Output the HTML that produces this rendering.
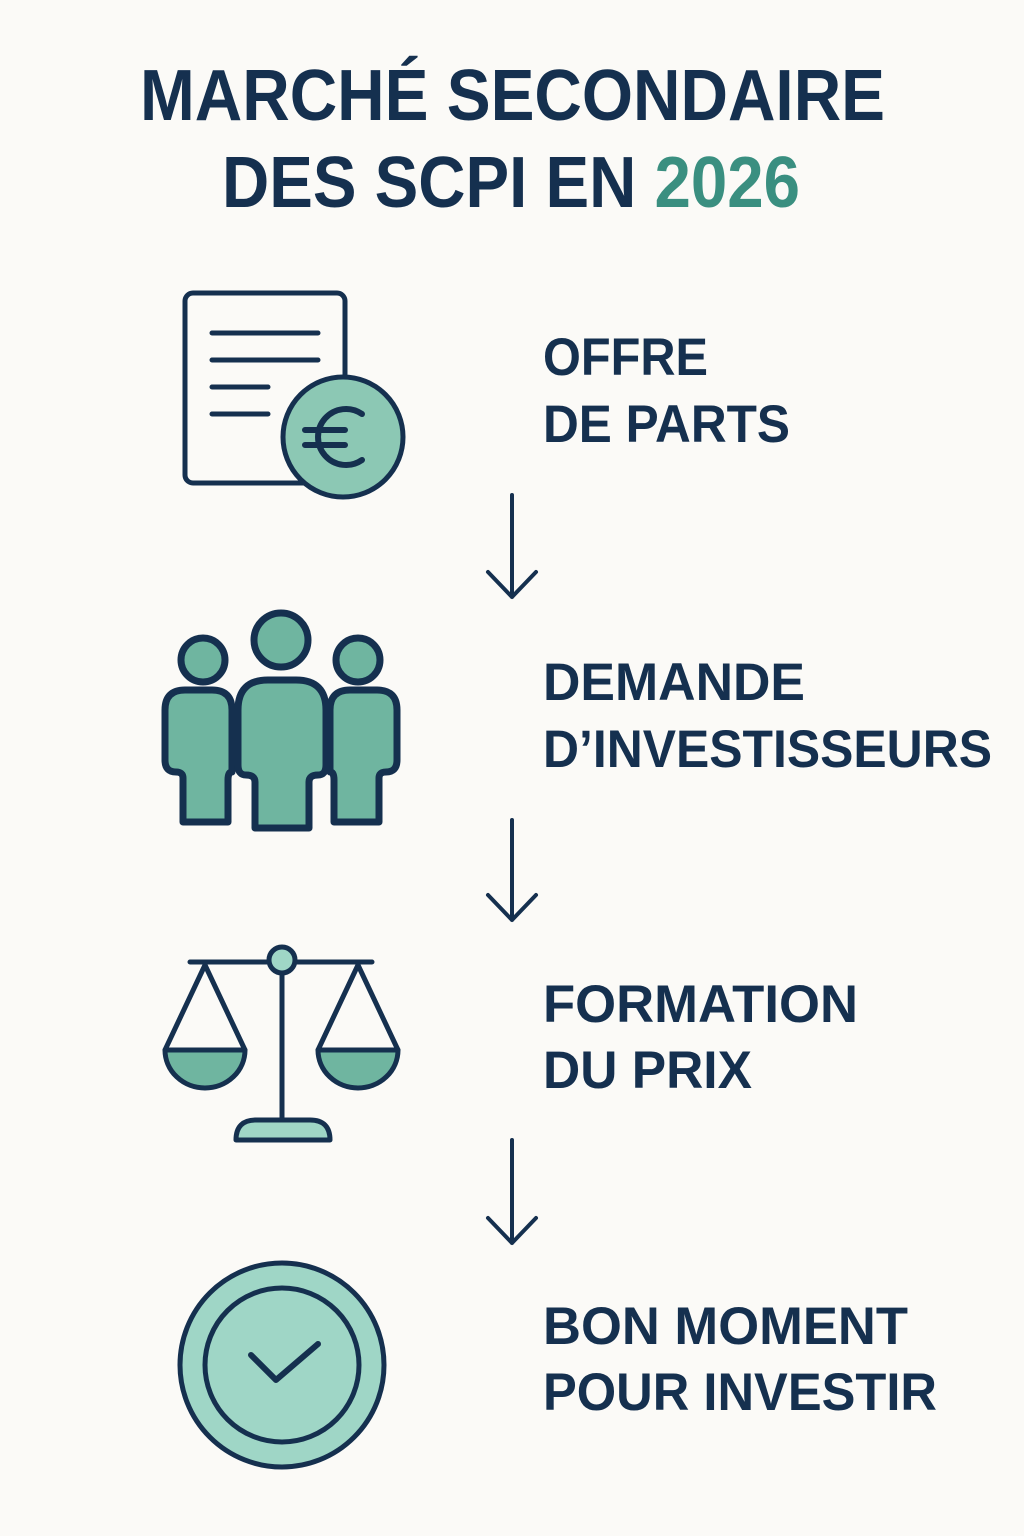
<!DOCTYPE html>
<html><head><meta charset="utf-8"><style>
html,body{margin:0;padding:0;background:#fbfaf7;}
svg{display:block;}
text{font-family:"Liberation Sans","DejaVu Sans",sans-serif;font-weight:bold;fill:#15304f;}
</style></head><body>
<svg width="1024" height="1536" viewBox="0 0 1024 1536" xmlns="http://www.w3.org/2000/svg">
<rect width="1024" height="1536" fill="#fbfaf7"/>
<text x="140" y="120" font-size="72" textLength="745" lengthAdjust="spacingAndGlyphs">MARCHÉ SECONDAIRE</text>
<text x="222" y="207" font-size="72" textLength="578" lengthAdjust="spacingAndGlyphs">DES SCPI EN <tspan fill="#3a8f80">2026</tspan></text>

<g font-size="53">
<text x="543" y="375" textLength="165" lengthAdjust="spacingAndGlyphs">OFFRE</text>
<text x="543" y="442" textLength="247" lengthAdjust="spacingAndGlyphs">DE PARTS</text>
<text x="543" y="700" textLength="262" lengthAdjust="spacingAndGlyphs">DEMANDE</text>
<text x="543" y="767" textLength="449" lengthAdjust="spacingAndGlyphs">D’INVESTISSEURS</text>
<text x="543" y="1022" textLength="315" lengthAdjust="spacingAndGlyphs">FORMATION</text>
<text x="543" y="1088" textLength="209" lengthAdjust="spacingAndGlyphs">DU PRIX</text>
<text x="543" y="1344" textLength="365" lengthAdjust="spacingAndGlyphs">BON MOMENT</text>
<text x="543" y="1410" textLength="394" lengthAdjust="spacingAndGlyphs">POUR INVESTIR</text>
</g>

<g stroke="#15304f" stroke-width="4" fill="none" stroke-linecap="round" stroke-linejoin="round">
<path d="M512 495 V597 M488 572 L512 597 L536 572"/>
<path d="M512 820 V920 M488 895 L512 920 L536 895"/>
<path d="M512 1140 V1243 M488 1218 L512 1243 L536 1218"/>
</g>

<!-- document -->
<g stroke="#15304f" stroke-width="5" stroke-linecap="round" stroke-linejoin="round">
<rect x="185" y="293" width="160" height="190" rx="8" fill="#fbfaf7"/>
<path d="M212 333 H318 M212 360 H318 M212 387 H268 M212 414 H268" fill="none"/>
<circle cx="343" cy="437" r="60" fill="#8cc8b4"/>
<path d="M362 414 A28 28 0 1 0 362 460 M305 430 H345 M305 445 H345" fill="none" stroke-width="6"/>
</g>

<!-- people -->
<g stroke="#15304f" stroke-width="7" stroke-linejoin="round" fill="#6fb5a0">
<path d="M183 822 V778 Q183 772 176 772 Q165 772 165 760 V710 Q165 690 185 690 H212 Q232 690 232 710 V772 Q228 772 228 780 V822 Z"/>
<path d="M379 822 V778 Q379 772 386 772 Q397 772 397 760 V710 Q397 690 377 690 H350 Q330 690 330 710 V772 Q334 772 334 780 V822 Z"/>
<path d="M255 828 V782 Q255 775 246 775 Q238 775 238 765 V710 Q238 680 268 680 H296 Q326 680 326 710 V765 Q326 775 318 775 Q309 775 309 782 V828 Z"/>
<circle cx="203" cy="660" r="22"/>
<circle cx="358" cy="660" r="22"/>
<circle cx="281" cy="640" r="27"/>
</g>

<!-- scale -->
<g stroke="#15304f" stroke-width="5" stroke-linecap="round" stroke-linejoin="round">
<path d="M190 962 H372 M282 970 V1118 M205 965 L165 1050 M205 965 L245 1050 M358 965 L318 1050 M358 965 L398 1050" fill="none"/>
<path d="M165 1050 H245 A40 38 0 0 1 165 1050 Z" fill="#6fb5a0"/>
<path d="M318 1050 H398 A40 38 0 0 1 318 1050 Z" fill="#6fb5a0"/>
<path d="M236 1140 Q236 1120 256 1120 H310 Q330 1120 330 1140 Z" fill="#9fd6c6"/>
<circle cx="282" cy="960" r="13" fill="#9fd6c6"/>
</g>

<!-- check -->
<g stroke="#15304f" stroke-width="5" stroke-linecap="round" stroke-linejoin="round">
<circle cx="282" cy="1365" r="102" fill="#9fd6c6"/>
<circle cx="282" cy="1365" r="77" fill="#9fd6c6"/>
<path d="M251 1355 L276 1380 L318 1344" fill="none" stroke-width="6"/>
</g>
</svg>
</body></html>
